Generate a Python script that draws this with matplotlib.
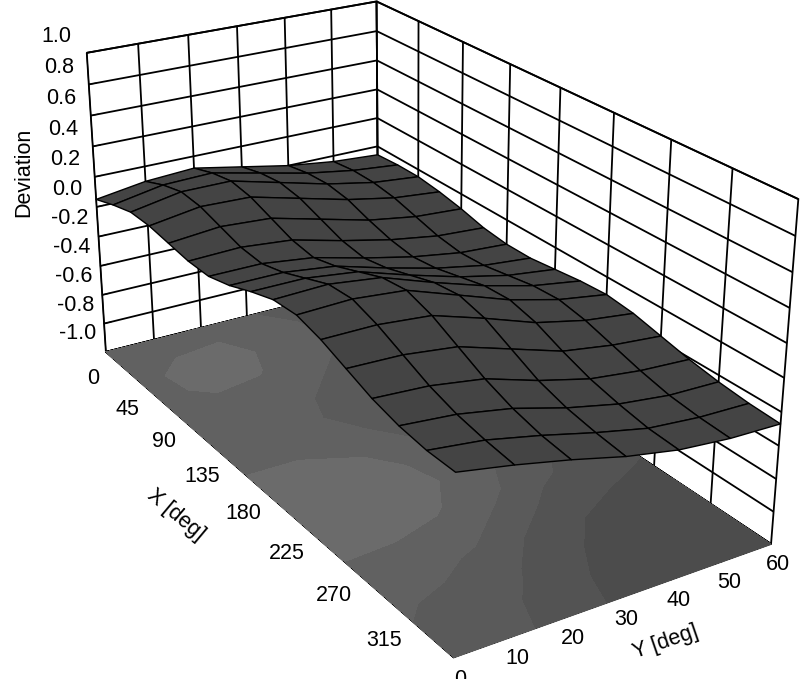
import matplotlib
matplotlib.use('Agg')
import matplotlib.pyplot as plt
import numpy as np
from matplotlib.colors import ListedColormap

plt.rcParams['font.family'] = ['Liberation Sans', 'DejaVu Sans']
plt.rcParams['grid.color'] = 'black'
plt.rcParams['grid.linewidth'] = 1.3

# grid of the measured surface
x_deg = [0, 22.5, 45, 67.5, 90, 112.5, 135, 157.5, 180, 202.5, 225, 247.5, 270, 292.5, 315, 337.5, 360]
y_deg = [0, 10, 20, 30, 40, 50, 60]

# deviation, one row per y value
dev_y0 = [0.05, 0.10, 0.14, 0.14, 0.12, 0.10, 0.10, 0.14, 0.20, 0.25, 0.26, 0.22, 0.16, 0.10, 0.06, 0.04, 0.04]
dev_y10 = [0.10, 0.16, 0.20, 0.19, 0.15, 0.11, 0.10, 0.14, 0.20, 0.26, 0.27, 0.22, 0.15, 0.08, 0.03, 0.00, -0.02]
dev_y20 = [0.12, 0.17, 0.20, 0.18, 0.13, 0.08, 0.06, 0.10, 0.16, 0.22, 0.24, 0.19, 0.11, 0.03, -0.03, -0.07, -0.09]
dev_y30 = [0.06, 0.10, 0.12, 0.10, 0.05, 0.00, -0.02, 0.01, 0.06, 0.11, 0.13, 0.09, 0.01, -0.07, -0.12, -0.15, -0.17]
dev_y40 = [0.00, 0.03, 0.04, 0.02, -0.03, -0.07, -0.09, -0.07, -0.03, 0.01, 0.02, -0.02, -0.09, -0.15, -0.19, -0.22, -0.23]
dev_y50 = [-0.04, -0.02, -0.02, -0.04, -0.08, -0.12, -0.14, -0.13, -0.10, -0.07, -0.06, -0.09, -0.14, -0.19, -0.23, -0.25, -0.26]
dev_y60 = [-0.06, -0.05, -0.05, -0.07, -0.10, -0.14, -0.16, -0.16, -0.14, -0.12, -0.11, -0.13, -0.17, -0.21, -0.24, -0.26, -0.27]

x_ticks = [0, 45, 90, 135, 180, 225, 270, 315]
y_ticks = [0, 10, 20, 30, 40, 50, 60]
z_ticks = [-1.0, -0.8, -0.6, -0.4, -0.2, 0.0, 0.2, 0.4, 0.6, 0.8, 1.0]

X, Y = np.meshgrid(x_deg, y_deg)
Z = np.array([dev_y0, dev_y10, dev_y20, dev_y30, dev_y40, dev_y50, dev_y60])

fig = plt.figure(figsize=(8.04, 6.79), dpi=100)
ax = fig.add_subplot(projection='3d', proj_type='persp', focal_length=0.45)
ax.set_position([-0.155, -0.087, 1.3, 1.3])
ax.view_init(elev=24, azim=-32)
ax.set_box_aspect((2.0, 1.0, 0.98), zoom=0.96)

# floor: projected contours
floor_cmap = ListedColormap(['#4c4c4c', '#535353', '#5a5a5a', '#616161', '#6b6b6b'])
ax.contourf(X, Y, Z, levels=[-0.4, -0.15, -0.05, 0.05, 0.17, 0.4], cmap=floor_cmap,
            zdir='z', offset=-1.0, antialiased=False)

ax.plot_surface(X, Y, Z, color='#444444', edgecolor='black', linewidth=1.0,
                shade=False, antialiased=True)

ax.set_xlim(0, 360)
ax.set_ylim(0, 60)
ax.set_zlim(-1, 1)
ax.set_xticks(x_ticks)
ax.set_yticks(y_ticks)
ax.set_zticks(z_ticks)
ax.set_zticklabels(['%.1f' % v for v in z_ticks])
ax.zaxis.set_ticks_position('lower')

for axis in (ax.xaxis, ax.yaxis, ax.zaxis):
    axis.set_pane_color((1, 1, 1, 1))
    axis.pane.set_edgecolor('black')
    axis.pane.set_linewidth(1.3)
    axis.line.set_color('black')
    axis._axinfo['grid']['color'] = 'black'
    axis._axinfo['grid']['linewidth'] = 1.3
    axis._axinfo['tick']['inward_factor'] = 0.0
    axis._axinfo['tick']['outward_factor'] = 0.3
ax.zaxis.set_pane_color((0.35, 0.35, 0.35, 1))

ax.tick_params(axis='x', labelsize=15.5, pad=7)
ax.tick_params(axis='y', labelsize=15.5, pad=-3)
ax.tick_params(axis='z', labelsize=15.5, pad=9)
for lab in ax.get_zticklabels():
    lab.set_va('bottom')

fig.text(0.029, 0.746, 'Deviation', rotation=90, fontsize=15.5, ha='center', va='center')
fig.text(0.219, 0.242, 'X [deg]', rotation=-40, fontsize=15.5, ha='center', va='center')
fig.text(0.828, 0.054, 'Y [deg]', rotation=19, fontsize=15.5, ha='center', va='center')

plt.savefig('out.png', dpi=100)
